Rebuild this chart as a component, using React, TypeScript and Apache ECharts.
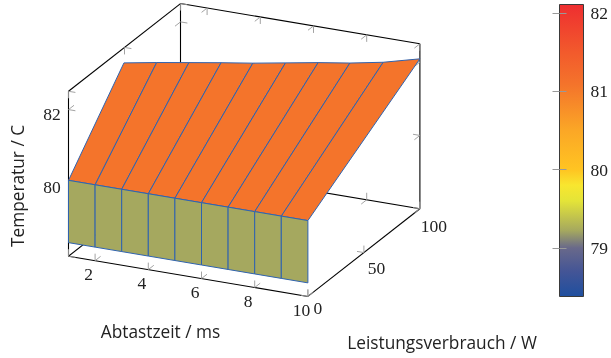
import React, { useEffect, useRef } from "react";
import * as echarts from "echarts";

// Data
const abtastzeit = [1, 2, 3, 4, 5, 6, 7, 8, 9, 10];
const leistungVorne = [0, 0, 0, 0, 0, 0, 0, 0, 0, 0];
const leistungHinten = [49.5, 55, 60, 65, 69.6, 75, 80.4, 85, 91, 100];
const tempUnten = [78.37, 78.37, 78.37, 78.37, 78.37, 78.37, 78.37, 78.37, 78.37, 78.37];
const tempVorne = [80.07, 80.07, 80.07, 80.07, 80.07, 80.07, 80.07, 80.07, 80.07, 80.07];
const tempHinten = [82.09, 82.09, 82.09, 82.09, 82.09, 82.09, 82.09, 82.09, 82.09, 82.09];

const xTicks = [2, 4, 6, 8, 10];
const yTicks = [0, 50, 100];
const zTicks = [80, 82];
const barTicks = [79, 80, 81, 82];
const xRange = [1, 10];
const yRange = [0, 100];
const zRange = [78, 82.5];
const barRange = [78.38, 82.107];

const colorValues = [78.38, 78.7, 79.0, 79.22, 79.6, 79.8, 80.0, 80.5, 81.08, 81.5, 82.107];
const colorHex = ["#1F4F9F", "#445596", "#69698A", "#A5A85F", "#E4E438", "#F8E62F", "#FFC422", "#FBA726", "#F4742B", "#F25A2C", "#EE2E30"];

const SERIF = "Liberation Serif";
const SANS = "Open Sans";
const BLUE = "#2F62AE";
const TICK = "#999999";

function project(t: number, p: number, z: number): [number, number] {
  return [
    68.5 + (t - 1) * 26.6 + p * 1.12,
    256.2 + (t - 1) * 4.47 - p * 0.877 - (z - 78) * 36.65,
  ];
}

function hexToRgb(h: string) {
  return [1, 3, 5].map((i) => parseInt(h.slice(i, i + 2), 16));
}

function colorAt(v: number) {
  for (let i = 1; i < colorValues.length; i++) {
    if (v <= colorValues[i]) {
      const f = (v - colorValues[i - 1]) / (colorValues[i] - colorValues[i - 1]);
      const a = hexToRgb(colorHex[i - 1]);
      const b = hexToRgb(colorHex[i]);
      return `rgb(${a.map((c, k) => Math.round(c + (b[k] - c) * f)).join(",")})`;
    }
  }
  return colorHex[colorHex.length - 1];
}

// box edges: pairs of 3D corners
const [t0, t1] = xRange;
const [p0, p1] = yRange;
const [zb, zt] = zRange;
const boxEdges = [
  [t0, p1, zb, t1, p1, zb],
  [t0, p0, zb, t0, p1, zb],
  [t0, p1, zb, t0, p1, zt],
  [t1, p0, zb, t1, p1, zb],
  [t1, p1, zb, t1, p1, zt],
  [t0, p1, zt, t1, p1, zt],
  [t0, p0, zt, t0, p1, zt],
  [t0, p0, zb, t1, p0, zb],
  [t0, p0, zb, t0, p0, zt],
];

// [t, p, z, dirT, dirP, dirZ]
const tickBranches: number[][] = [];
xTicks.forEach((t) => {
  tickBranches.push([t, p0, zb, 0, 0, 1], [t, p0, zb, 0, 1, 0]);
  tickBranches.push([t, p1, zb, 0, 0, 1], [t, p1, zb, 0, -1, 0]);
  tickBranches.push([t, p1, zt, 0, 0, -1], [t, p1, zt, 0, -1, 0]);
});
yTicks.forEach((p) => {
  tickBranches.push([t0, p, zb, 0, 0, 1], [t0, p, zb, 1, 0, 0]);
  tickBranches.push([t1, p, zb, 0, 0, 1], [t1, p, zb, -1, 0, 0]);
  tickBranches.push([t0, p, zt, 0, 0, -1], [t0, p, zt, 1, 0, 0]);
});
zTicks.forEach((z) => {
  tickBranches.push([t0, p0, z, 1, 0, 0], [t0, p0, z, 0, 1, 0]);
  tickBranches.push([t0, p1, z, 1, 0, 0], [t0, p1, z, 0, -1, 0]);
  tickBranches.push([t1, p1, z, -1, 0, 0], [t1, p1, z, 0, -1, 0]);
});

const topFacets: number[][] = [];
const wallFacets: number[][] = [];
for (let i = 0; i < abtastzeit.length - 1; i++) {
  const a = abtastzeit[i];
  const b = abtastzeit[i + 1];
  topFacets.push([
    a, leistungVorne[i], tempVorne[i],
    b, leistungVorne[i + 1], tempVorne[i + 1],
    b, leistungHinten[i + 1], tempHinten[i + 1],
    a, leistungHinten[i], tempHinten[i],
  ]);
  wallFacets.push([
    a, leistungVorne[i], tempUnten[i],
    b, leistungVorne[i + 1], tempUnten[i + 1],
    b, leistungVorne[i + 1], tempVorne[i + 1],
    a, leistungVorne[i], tempVorne[i],
  ]);
}

// [t, p, z, kind, labelValue]
const tickLabelData: number[][] = [
  ...xTicks.map((t) => [t, p0, zb, 0, t]),
  ...yTicks.map((p) => [t1, p, zb, 1, p]),
  ...zTicks.map((z) => [t0, p0, z, 2, z]),
];

function App() {
  const ref = useRef<HTMLDivElement>(null);
  useEffect(() => {
    const chart = echarts.init(ref.current!, undefined, { renderer: "svg" });

    const lineSeries = (data: number[][], color: string, width: number, z: number) => ({
      type: "custom",
      coordinateSystem: "cartesian2d",
      xAxisIndex: 0,
      yAxisIndex: 0,
      silent: true,
      clip: false,
      z,
      data,
      renderItem: (_: any, api: any) => {
        const a = api.coord(project(api.value(0), api.value(1), api.value(2)));
        const b = api.coord(project(api.value(3), api.value(4), api.value(5)));
        return {
          type: "line",
          shape: { x1: a[0], y1: a[1], x2: b[0], y2: b[1] },
          style: { stroke: color, lineWidth: width, fill: "none" },
        };
      },
    });

    const tickSeries = {
      type: "custom",
      coordinateSystem: "cartesian2d",
      xAxisIndex: 0,
      yAxisIndex: 0,
      silent: true,
      clip: false,
      z: 3,
      data: tickBranches,
      renderItem: (_: any, api: any) => {
        const tv = api.value(0), pv = api.value(1), zv = api.value(2);
        const s = project(tv, pv, zv);
        const e = project(tv + api.value(3), pv + api.value(4) * 10, zv + api.value(5));
        const dx = e[0] - s[0];
        const dy = e[1] - s[1];
        const n = Math.hypot(dx, dy);
        const a = api.coord(s);
        return {
          type: "line",
          shape: { x1: a[0], y1: a[1], x2: a[0] + (dx / n) * 7, y2: a[1] + (dy / n) * 7 },
          style: { stroke: TICK, lineWidth: 0.9, fill: "none" },
        };
      },
    };

    const facetSeries = (data: number[][], z: number) => ({
      type: "custom",
      coordinateSystem: "cartesian2d",
      xAxisIndex: 0,
      yAxisIndex: 0,
      silent: true,
      clip: false,
      z,
      data,
      renderItem: (_: any, api: any) => {
        const pts = [0, 3, 6, 9].map((k) =>
          api.coord(project(api.value(k), api.value(k + 1), api.value(k + 2)))
        );
        const mean = (api.value(2) + api.value(5) + api.value(8) + api.value(11)) / 4;
        return {
          type: "polygon",
          shape: { points: pts },
          style: { fill: colorAt(mean), stroke: BLUE, lineWidth: 1, lineJoin: "round" },
        };
      },
    });

    const offsets = [
      [-6.5, 13.8],
      [11.5, 15],
      [-16.5, 4],
    ];

    const labelSeries = {
      type: "custom",
      coordinateSystem: "cartesian2d",
      xAxisIndex: 0,
      yAxisIndex: 0,
      silent: true,
      clip: false,
      z: 6,
      data: tickLabelData,
      renderItem: (_: any, api: any) => {
        const a = api.coord(project(api.value(0), api.value(1), api.value(2)));
        const kind = api.value(3);
        const lab = api.value(4);
        let [ox, oy] = offsets[kind];
        if (kind === 1) {
          ox = lab === 0 ? 10 : lab === 50 ? 12.7 : 14;
          oy = lab === 0 ? 12 : lab === 50 ? 15 : 17.5;
        }
        return {
          type: "text",
          style: {
            text: String(lab),
            x: a[0] + ox,
            y: a[1] + oy,
            fill: "#222",
            fontFamily: SERIF,
            fontSize: 17.5,
            align: "center",
            verticalAlign: "middle",
          },
        };
      },
    };

    const barSeries = {
      type: "custom",
      coordinateSystem: "cartesian2d",
      xAxisIndex: 1,
      yAxisIndex: 1,
      silent: true,
      clip: false,
      z: 2,
      data: [[0, barRange[0], 1, barRange[1]]],
      renderItem: (_: any, api: any) => {
        const a = api.coord([api.value(0), api.value(1)]);
        const b = api.coord([api.value(2), api.value(3)]);
        const stops = colorValues
          .map((v, i) => ({
            offset: (barRange[1] - v) / (barRange[1] - barRange[0]),
            color: colorHex[i],
          }))
          .reverse();
        return {
          type: "rect",
          shape: { x: a[0], y: b[1], width: b[0] - a[0], height: a[1] - b[1] },
          style: {
            fill: new echarts.graphic.LinearGradient(0, 0, 0, 1, stops),
            stroke: "#3a3a3a",
            lineWidth: 1,
          },
        };
      },
    };

    const hiddenBase = { show: false, axisLine: { show: false }, splitLine: { show: false } };

    chart.setOption({
      animation: false,
      grid: [
        { left: 0, top: 0, width: 611, height: 358 },
        { left: 559.5, top: 4.5, width: 25, height: 292 },
      ],
      xAxis: [
        { ...hiddenBase, type: "value", gridIndex: 0, min: 0, max: 611 },
        { ...hiddenBase, type: "value", gridIndex: 1, min: 0, max: 1 },
      ],
      yAxis: [
        { ...hiddenBase, type: "value", gridIndex: 0, min: 0, max: 358, inverse: true },
        {
          type: "value",
          gridIndex: 1,
          position: "right",
          min: barRange[0],
          max: barRange[1],
          z: 5,
          axisLine: { show: false },
          splitLine: { show: false },
          axisTick: { show: true, inside: true, length: 7, customValues: barTicks, lineStyle: { color: TICK, width: 1 } },
          axisLabel: { show: true, margin: 7, customValues: barTicks, color: "#222", fontFamily: SERIF, fontSize: 17.5 },
        },
        {
          type: "value",
          gridIndex: 1,
          position: "left",
          min: barRange[0],
          max: barRange[1],
          z: 5,
          axisLine: { show: false },
          splitLine: { show: false },
          axisTick: { show: true, inside: true, length: 7, customValues: barTicks, lineStyle: { color: TICK, width: 1 } },
          axisLabel: { show: false },
        },
      ],
      graphic: [
        { type: "text", x: 160.5, y: 331, style: { text: "Abtastzeit / ms", fill: "#222", fontFamily: SANS, fontSize: 17.3, align: "center", verticalAlign: "middle" } },
        { type: "text", x: 442, y: 342, style: { text: "Leistungsverbrauch / W", fill: "#222", fontFamily: SANS, fontSize: 17.3, align: "center", verticalAlign: "middle" } },
        { type: "text", x: 17, y: 186, rotation: Math.PI / 2, style: { text: "Temperatur / C", fill: "#222", fontFamily: SANS, fontSize: 17.3, align: "center", verticalAlign: "middle" } },
      ],
      series: [
        lineSeries(boxEdges, "#000", 1.1, 2),
        tickSeries,
        facetSeries(topFacets, 4),
        facetSeries(wallFacets, 5),
        labelSeries,
        barSeries,
      ],
    });
    return () => chart.dispose();
  }, []);
  return <div ref={ref} style={{ position: "fixed", left: 0, top: 0, width: 611, height: 358 }} />;
}

export default App;
